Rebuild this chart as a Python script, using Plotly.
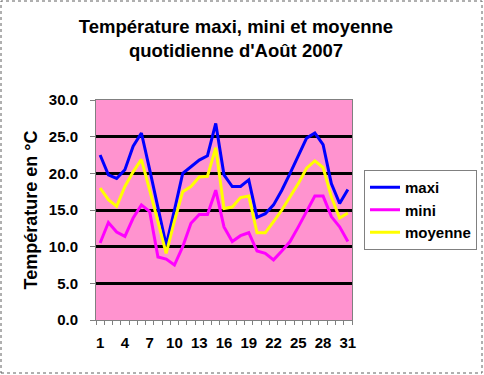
import plotly.graph_objects as go

days = list(range(1, 32))
maxi = [22.5, 19.8, 19.3, 20.5, 23.7, 25.5, 20.5, 15.5, 10.2, 15.0, 20.0, 20.9, 21.8, 22.4, 26.8,
        19.8, 18.2, 18.2, 19.1, 14.0, 14.5, 15.7, 17.7, 20.0, 22.3, 24.8, 25.5, 23.9, 18.6, 15.9, 17.8]
mini = [10.5, 13.3, 12.0, 11.4, 13.9, 15.7, 14.8, 8.6, 8.3, 7.5, 10.0, 13.2, 14.4, 14.4, 17.7,
        12.7, 10.7, 11.5, 11.9, 9.4, 9.1, 8.2, 9.4, 10.7, 12.7, 14.9, 16.9, 16.9, 14.1, 12.7, 10.7]
moyenne = [18.0, 16.4, 15.5, 18.2, 20.2, 21.9, 17.7, 13.4, 9.1, 13.5, 17.5, 18.2, 19.5, 19.6, 23.5,
           15.2, 15.4, 16.7, 16.9, 11.9, 11.9, 13.4, 15.0, 16.8, 18.6, 20.7, 21.7, 20.8, 16.8, 13.9, 14.6]
x_ticks = [1, 4, 7, 10, 13, 16, 19, 22, 25, 28, 31]
y_ticks = [0, 5, 10, 15, 20, 25, 30]

FONT = "Liberation Sans, Arial, sans-serif"

fig = go.Figure()
for name, vals, col in [("maxi", maxi, "#0000FF"), ("mini", mini, "#FF00FF"), ("moyenne", moyenne, "#FFFF00")]:
    fig.add_trace(go.Scatter(x=days, y=vals, mode="lines", name=f"<b>{name}</b>", legendgroup=name,
                             line=dict(color=col, width=3)))

W, H = 484, 375
L, R, T, B = 96, 132, 100, 55
pw, ph = W - L - R, H - T - B

fig.update_layout(
    width=W, height=H,
    margin=dict(l=L, r=R, t=T, b=B, autoexpand=False),
    paper_bgcolor="white",
    plot_bgcolor="#FF93CF",
    font=dict(family=FONT, size=14, color="black"),
    title=dict(text="<b>Température maxi, mini et moyenne<br>quotidienne d'Août 2007</b>",
               x=236 / W, xanchor="center", y=1 - 33 / H, yanchor="top",
               font=dict(family=FONT, size=18.5, color="black")),
    showlegend=True,
    legend=dict(x=(364 - L) / pw, xanchor="left", y=(H - B - 170) / ph, yanchor="top",
                bordercolor="#808080", borderwidth=1, bgcolor="white",
                font=dict(family=FONT, size=15, color="black"),
                tracegroupgap=0, traceorder="grouped", itemwidth=30),
    xaxis=dict(range=[0.5, 31.5], tickvals=x_ticks, ticktext=[f"<b>{v}</b>" for v in x_ticks],
               ticks="", showgrid=False, zeroline=False, automargin=False,
               showline=True, linecolor="#808080", linewidth=1, mirror=True,
               minor=dict(ticks="outside", tick0=0.5, dtick=1, ticklen=4, tickcolor="#808080", showgrid=False),
               tickfont=dict(family=FONT, size=15), ticklabelstandoff=9),
    yaxis=dict(range=[0, 30], tickvals=y_ticks, ticktext=[f"<b>{v:.1f}</b>" for v in y_ticks],
               ticks="outside", ticklen=5, tickcolor="#808080", automargin=False,
               showgrid=True, gridcolor="black", gridwidth=2.5, zeroline=False,
               showline=True, linecolor="#808080", linewidth=1, mirror=True,
               tickfont=dict(family=FONT, size=15), ticklabelstandoff=9,
               title=dict(text="<b>Température en °C</b>", font=dict(family=FONT, size=18), standoff=6)),
)

fig.add_shape(type="rect", xref="paper", yref="paper",
              x0=-(L - 1) / pw, x1=(W - L - 2) / pw, y0=-(B - 2) / ph, y1=(T - 1) / ph + 1,
              line=dict(color="#606060", width=1, dash="dot"), fillcolor="rgba(0,0,0,0)", layer="below")

fig.write_html("out.html", config={"displayModeBar": False},
               post_script="document.body.style.margin='0';document.body.style.overflow='hidden';")
